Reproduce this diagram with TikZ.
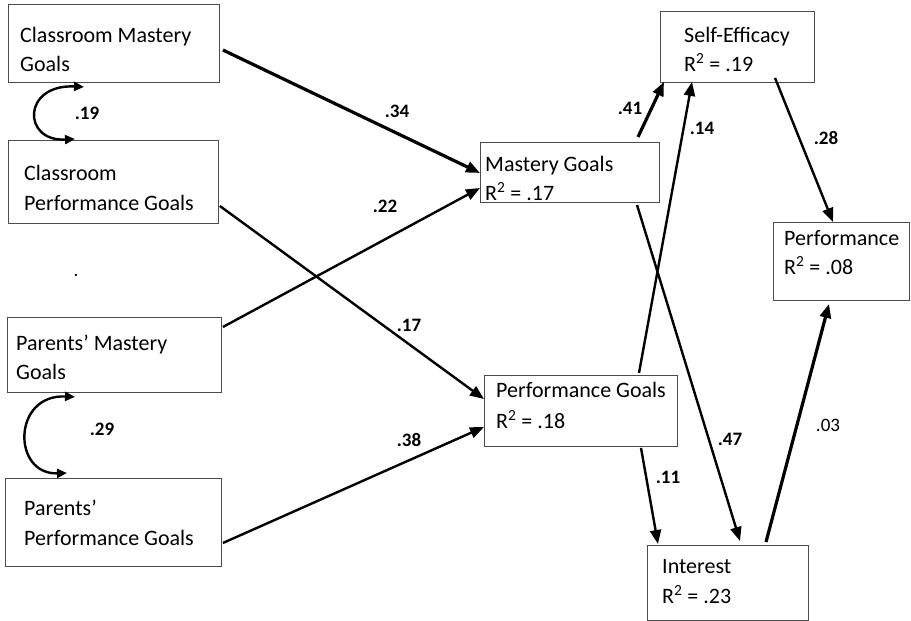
\documentclass[tikz,border=0pt]{standalone}
\usepackage{fontspec}
\setmainfont{Carlito}
\usetikzlibrary{arrows.meta,calc}
\begin{document}
\begin{tikzpicture}[x=1pt,y=-1pt,
  box/.style={draw=black!70, line width=0.9pt, anchor=north west, inner sep=0pt},
  txt/.style={anchor=base west, inner sep=0pt, font=\fontsize{22}{26}\selectfont},
  wt/.style={inner sep=0pt, font=\fontsize{19}{22}\selectfont\bfseries},
  wtn/.style={inner sep=0pt, font=\fontsize{19}{22}\selectfont},
  arr/.style={line width=2.4pt, -{Triangle[length=14pt,width=11pt]}},
  arrthick/.style={arr, line width=3.2pt},
  cov/.style={line width=2.4pt, {Triangle[length=10pt,width=9pt]}-{Triangle[length=10pt,width=9pt]}}
]
\useasboundingbox (0,0) rectangle (911,621);

% boxes
\node[box, minimum width=211pt, minimum height=78pt] (cm) at (8,4) {};
\node[box, minimum width=210pt, minimum height=83pt] (cp) at (8,140) {};
\node[box, minimum width=214pt, minimum height=75pt] (pm) at (7,317) {};
\node[box, minimum width=216pt, minimum height=88pt] (pp) at (5,478) {};
\node[box, minimum width=154pt, minimum height=71pt] (se) at (660,11) {};
\node[box, minimum width=179pt, minimum height=60pt] (mg) at (480,142) {};
\node[box, minimum width=136pt, minimum height=78pt] (perf) at (773,222) {};
\node[box, minimum width=193pt, minimum height=71pt] (pg) at (484,375) {};
\node[box, minimum width=161pt, minimum height=75pt] (int) at (647,545) {};

% box texts
\node[txt] (cm1) at (20,42) {Classroom Mastery};
\node[txt] (cm2) at (20,71) {Goals};
\node[txt] (cp1) at (24,180) {Classroom};
\node[txt] (cp2) at (24,210) {Performance Goals};
\node[txt] (pm1) at (16,350) {Parents’ Mastery};
\node[txt] (pm2) at (16,379) {Goals};
\node[txt] (pp1) at (24,515) {Parents’};
\node[txt] (pp2) at (24,545) {Performance Goals};
\node[txt] (se1) at (684,42) {Self-Efficacy};
\node[txt] (se2) at (684,71) {R\textsuperscript{2} = .19};
\node[txt] (mg1) at (485,171) {Mastery Goals};
\node[txt] (mg2) at (485,200) {R\textsuperscript{2} = .17};
\node[txt] (pf1) at (784,245) {Performance};
\node[txt] (pf2) at (784,274) {R\textsuperscript{2} = .08};
\node[txt] (pg1) at (496,397) {Performance Goals};
\node[txt] (pg2) at (496,428) {R\textsuperscript{2} = .18};
\node[txt] (in1) at (662,573) {Interest};
\node[txt] (in2) at (662,603) {R\textsuperscript{2} = .23};

% stray dot
\node[wtn, anchor=base] (dot) at (76,276) {.};

% paths
\draw[arrthick] ($(cm.north east)+(3,46)$) -- ($(mg.north west)+(0,31)$);
\draw[arr] ($(pm.north east)+(1,10)$) -- ($(mg.north west)+(0,46)$);
\draw[arr] ($(cp.north east)+(1,66)$) -- ($(pg.north west)+(0,24)$);
\draw[arr] ($(pp.north east)+(1,65)$) -- ($(pg.north west)+(0,52)$);
\draw[arrthick] ($(mg.north west)+(158,-5)$) -- ($(se.south west)+(4,-1)$);
\draw[arr] ($(pg.north west)+(155,-2)$) -- ($(se.south west)+(32,-1)$);
\draw[arr] ($(mg.south west)+(157,2)$) -- ($(int.north west)+(93,-4)$);
\draw[arr] ($(pg.south west)+(157,1)$) -- ($(int.north west)+(11,-1)$);
\draw[arrthick] ($(int.north west)+(119,-3)$) -- ($(perf.south west)+(56,3)$);
\draw[arr] ($(se.south west)+(115,-5)$) -- ($(perf.north west)+(60,0)$);

% covariances
\draw[cov] ($(cm.south west)+(76,4)$) .. controls (22,84) and (22,142) .. ($(cp.north west)+(67,-1)$);
\draw[cov] ($(pm.south west)+(68,4)$) .. controls (12,394) and (12,475) .. ($(pp.north west)+(62,-5)$);

% weights
\node[wt] (w19) at (87,113) {.19};
\node[wt] (w29) at (102,429) {.29};
\node[wt] (w34) at (397,111) {.34};
\node[wt] (w22) at (385,206) {.22};
\node[wt] (w17) at (409,325) {.17};
\node[wt] (w38) at (409,440) {.38};
\node[wt] (w41) at (630,108) {.41};
\node[wt] (w14) at (702,128) {.14};
\node[wt] (w28) at (826,138) {.28};
\node[wt] (w47) at (730,439) {.47};
\node[wt] (w11) at (668,477) {.11};
\node[wtn] (w03) at (828,425) {.03};
\end{tikzpicture}
\end{document}
